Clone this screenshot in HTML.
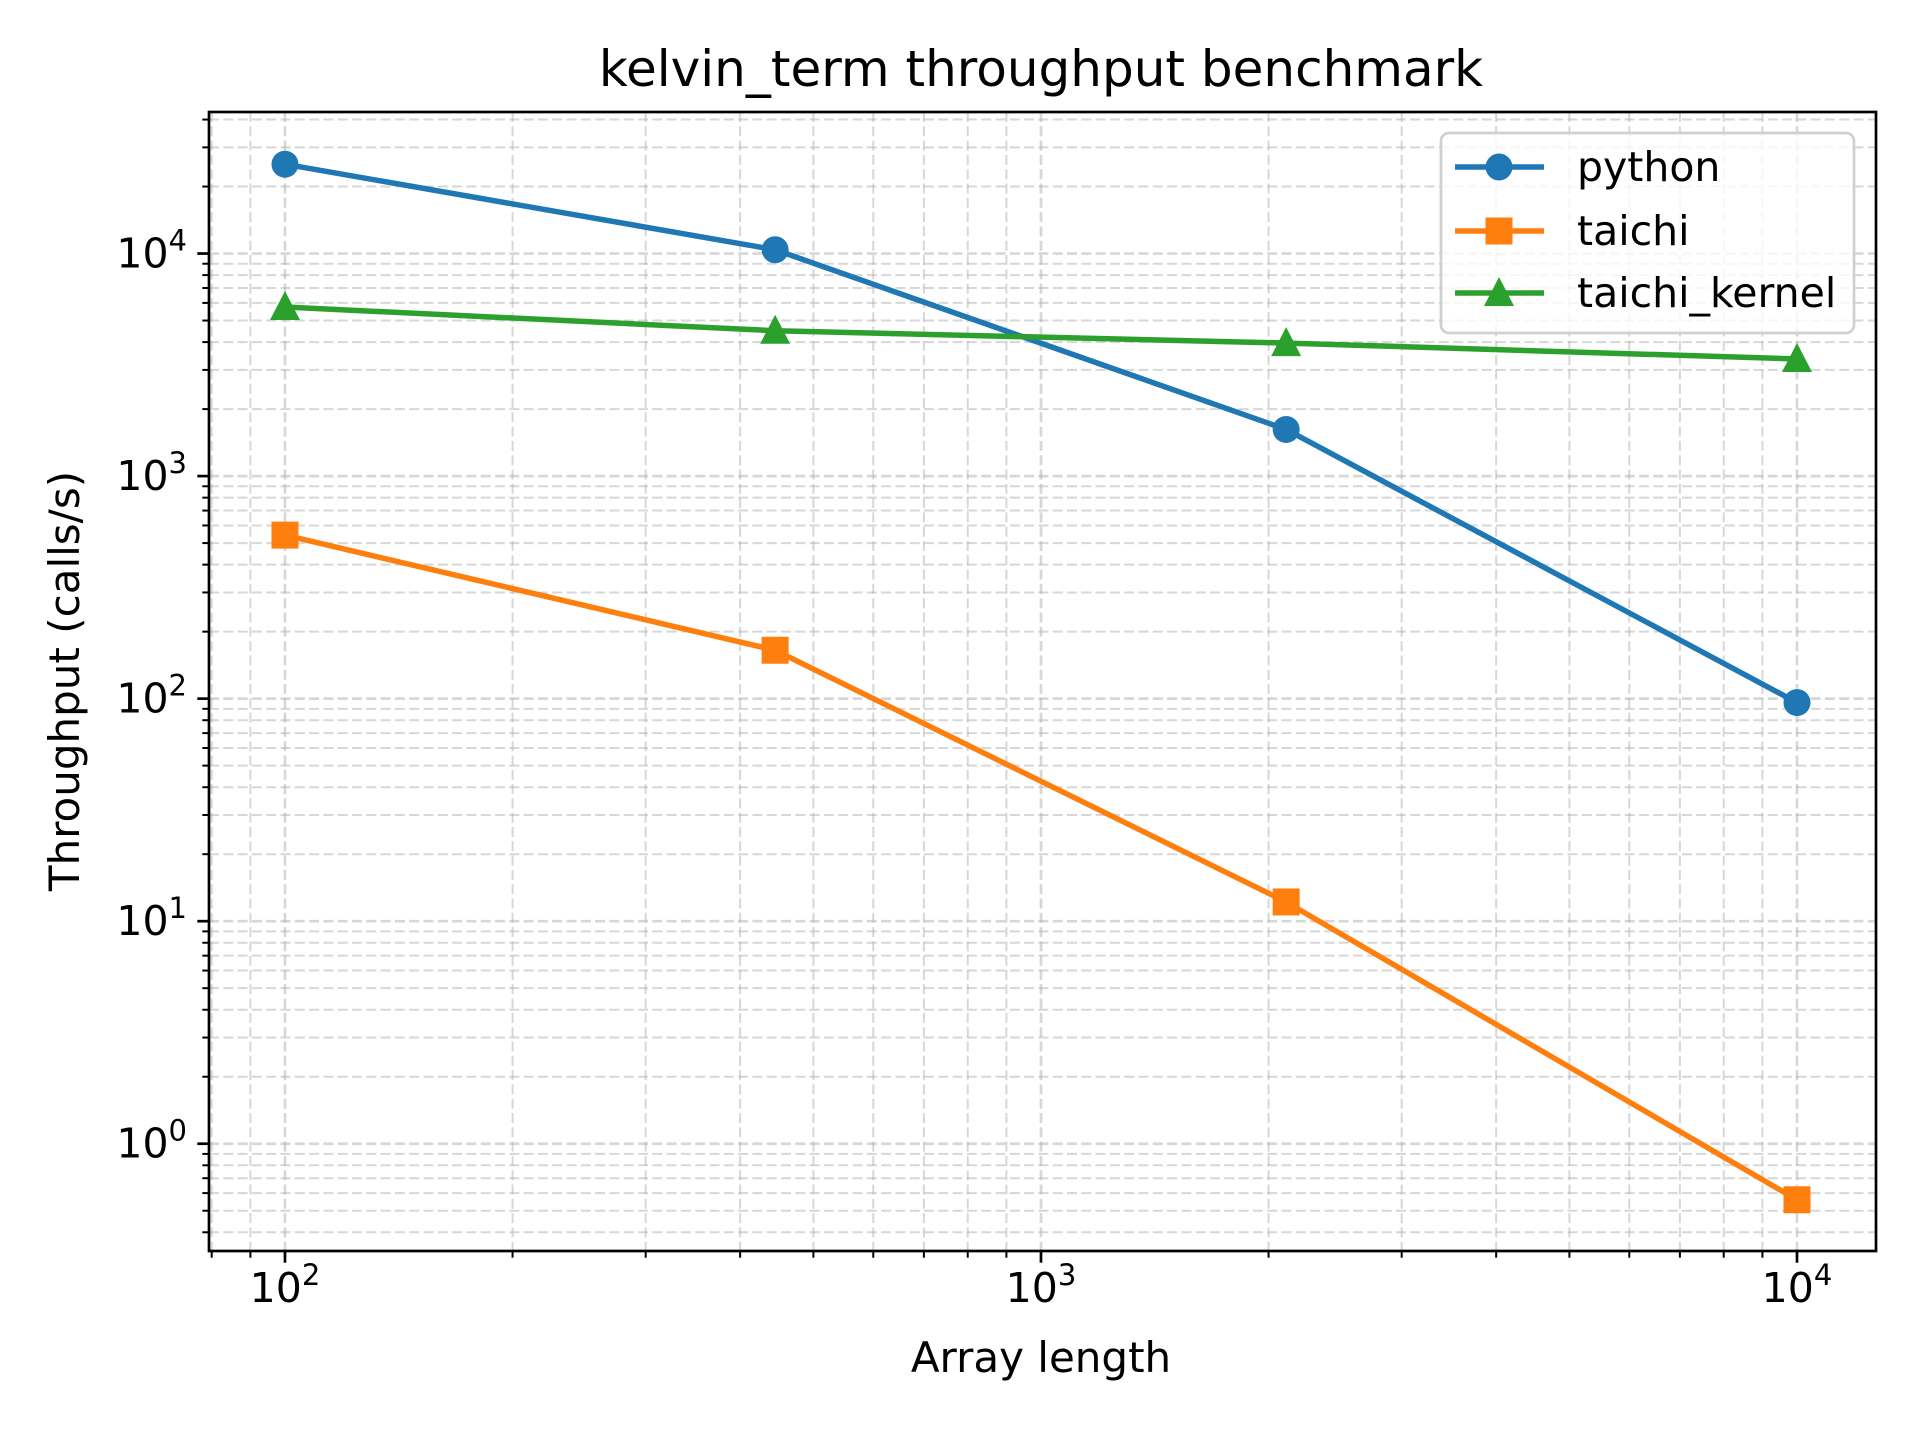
<!DOCTYPE html>
<html><head><meta charset="utf-8"><style>
html,body{margin:0;padding:0;background:#fff}
svg text{font-family:"DejaVu Sans","Liberation Sans",sans-serif}
</style></head><body>
<svg id="chart" width="1920" height="1440" viewBox="0 0 1920 1440" xmlns="http://www.w3.org/2000/svg">
<rect width="1920" height="1440" fill="#fff"/>
<g id="grid"></g><g id="ticks"></g><g id="series"></g>
<rect x="209" y="112" width="1667" height="1139" fill="none" stroke="#000" stroke-width="2.7"/>
<text x="1041" y="86" font-size="50" text-anchor="middle">kelvin_term throughput benchmark</text>
<text x="1041" y="1372" font-size="42" text-anchor="middle">Array length</text>
<text x="0" y="0" font-size="42" text-anchor="middle" transform="translate(79,681) rotate(-90)">Throughput (calls/s)</text>
<g id="legend"></g>
</svg>
<script>
const xValues=[100,445,2110,10000];
const seriesNames=["python","taichi","taichi_kernel"];
const pythonValues=[25200,10400,1620,96];
const taichiValues=[543,165,12.2,0.56];
const kernelValues=[5750,4500,3960,3360];
const xTickExps=[2,3,4];
const yTickExps=[0,1,2,3,4];
const NS="http://www.w3.org/2000/svg";
const L=209,R=1876,T=112,B=1251;
const xLogMin=1.8995,xLogMax=4.1045,yLogMin=-0.482,yLogMax=4.636;
function xs(v){return L+(Math.log10(v)-xLogMin)/(xLogMax-xLogMin)*(R-L);}
function ys(v){return B-(Math.log10(v)-yLogMin)/(yLogMax-yLogMin)*(B-T);}
function mk(tag,attrs,parent){const e=document.createElementNS(NS,tag);for(const k in attrs)e.setAttribute(k,attrs[k]);parent.appendChild(e);return e;}
const grid=document.getElementById('grid'),ticks=document.getElementById('ticks'),ser=document.getElementById('series'),leg=document.getElementById('legend');
for(let d=1;d<=4;d++){for(let m=1;m<10;m++){const v=m*Math.pow(10,d);const x=xs(v);if(x<L-0.5||x>R+0.5)continue;
 const g=mk('line',{x1:x,x2:x,y1:T,y2:B,stroke:'#b0b0b0','stroke-opacity':0.5,'stroke-width':m==1?2.7:2,'stroke-dasharray':'10,4.3'},grid);
 
 const t=mk('line',{x1:x,x2:x,y1:B,y2:B+(m==1?11.7:6.7),stroke:'#000','stroke-width':m==1?2.7:2},ticks);
 }}
for(let d=-1;d<=4;d++){for(let m=1;m<10;m++){const v=m*Math.pow(10,d);const y=ys(v);if(y<T-0.5||y>B+0.5)continue;
 const g=mk('line',{x1:L,x2:R,y1:y,y2:y,stroke:'#b0b0b0','stroke-opacity':0.5,'stroke-width':m==1?2.7:2,'stroke-dasharray':'10,4.3'},grid);
 
 const t=mk('line',{x1:L,x2:L-(m==1?11.7:6.7),y1:y,y2:y,stroke:'#000','stroke-width':m==1?2.7:2},ticks);
 }}
xTickExps.forEach(e=>{const x=xs(Math.pow(10,e));const t=mk('text',{x:x,y:1302,'font-size':41,'text-anchor':'middle'},ticks);
 
 t.innerHTML='10<tspan dy="-17" font-size="29">'+e+'</tspan>';});
yTickExps.forEach(e=>{const y=ys(Math.pow(10,e));const t=mk('text',{x:187,y:y+14,'font-size':41,'text-anchor':'end'},ticks);
 
 t.innerHTML='10<tspan dy="-17" font-size="29">'+e+'</tspan>';});
const colors=['#1f77b4','#ff7f0e','#2ca02c'];
const allVals=[pythonValues,taichiValues,kernelValues];
function marker(kind,x,y,c,parent){let e;
 if(kind==0)e=mk('circle',{cx:x,cy:y,r:13.5,fill:c},parent);
 else if(kind==1)e=mk('rect',{x:x-13.5,y:y-13.5,width:27,height:27,fill:c},parent);
 else e=mk('polygon',{points:`${x},${y-16} ${x-15},${y+13} ${x+15},${y+13}`,fill:c},parent);
 return e;}
allVals.forEach((vals,i)=>{const pts=vals.map((v,j)=>xs(xValues[j])+','+ys(v)).join(' ');
 const pl=mk('polyline',{points:pts,fill:'none',stroke:colors[i],'stroke-width':5.5,'stroke-linejoin':'round'},ser);
 
 vals.forEach((v,j)=>{const m=marker(i,xs(xValues[j]),ys(v),colors[i],ser);
  });});
const box=mk('rect',{x:1441,y:133,width:413,height:200,rx:8,fill:'#fff','fill-opacity':0.8,stroke:'#d0d0d0','stroke-width':2.7},leg);

const ly=[167,231,293];
seriesNames.forEach((n,i)=>{const g=mk('g',{},leg);
 
 mk('line',{x1:1455,x2:1544,y1:ly[i],y2:ly[i],stroke:colors[i],'stroke-width':5.5},g);
 marker(i,1499,ly[i],colors[i],g);
 const t=mk('text',{x:1577,y:ly[i]+14,'font-size':41},g);t.textContent=n;});
</script>
</body></html>
